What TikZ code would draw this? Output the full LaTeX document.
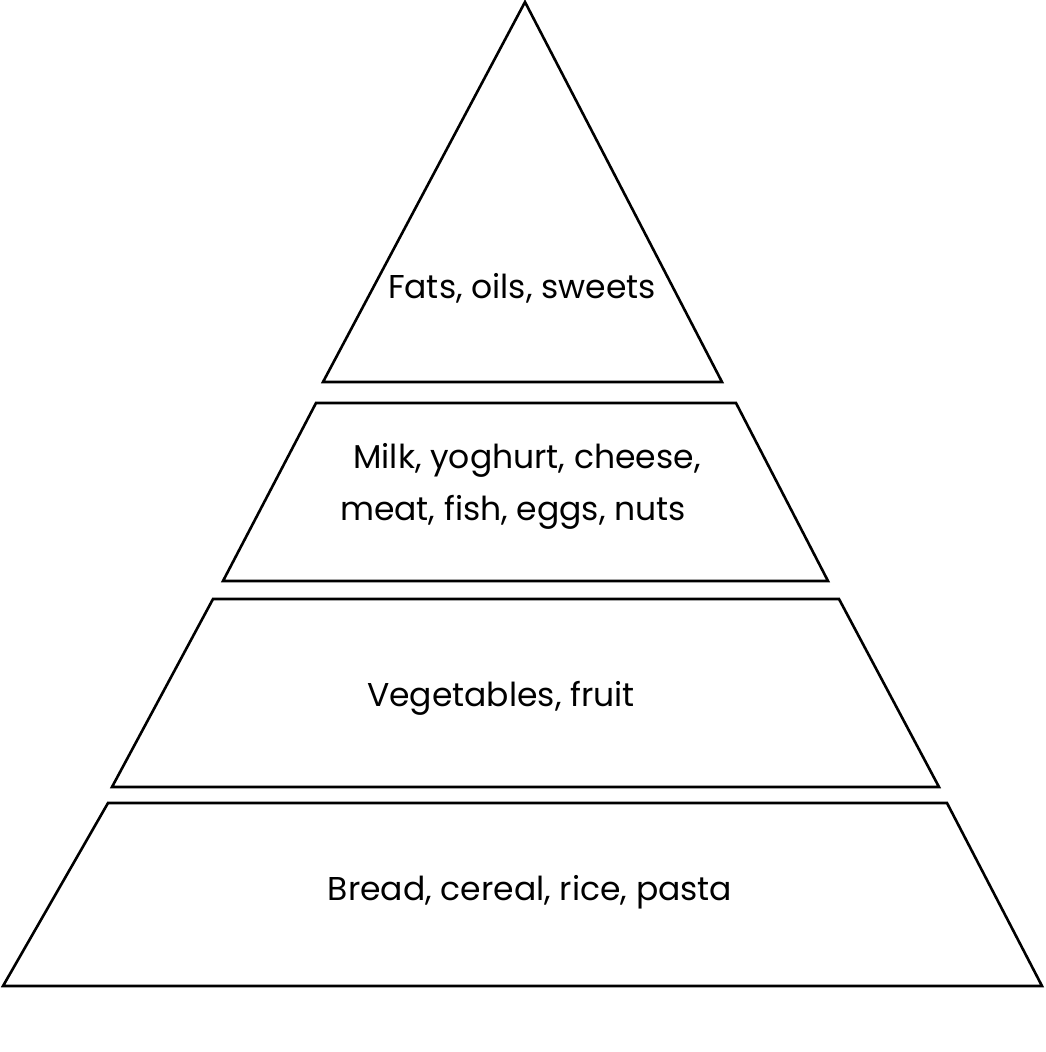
\documentclass[tikz,border=0pt]{standalone}
\usepackage{fontspec}
\setmainfont{Poppins}
\begin{document}
\begin{tikzpicture}[x=1pt,y=-1pt,
  tier/.style={draw=black,line width=2.6pt,line join=miter},
  lbl/.style={anchor=base,inner sep=0pt,font=\fontsize{33}{40}\selectfont}]
\useasboundingbox (0,0) rectangle (1045,1052);
\fill[white] (0,0) rectangle (1045,1052);
\draw[tier] (525,2) -- (722,382) -- (323,382) -- cycle;
\draw[tier] (316,403) -- (736,403) -- (828,581) -- (223,581) -- cycle;
\draw[tier] (213,599) -- (839,599) -- (939,787) -- (112,787) -- cycle;
\draw[tier] (108,803) -- (947,803) -- (1042,986) -- (3,986) -- cycle;
\node[lbl] (t1) at (522,298) {Fats, oils, sweets};
\node[lbl] (t2a) at (527,468) {Milk, yoghurt, cheese,};
\node[lbl] (t2b) at (513,520) {meat, fish, eggs, nuts};
\node[lbl] (t3) at (501,706) {Vegetables, fruit};
\node[lbl] (t4) at (530,900) {Bread, cereal, rice, pasta};
\end{tikzpicture}
\end{document}
